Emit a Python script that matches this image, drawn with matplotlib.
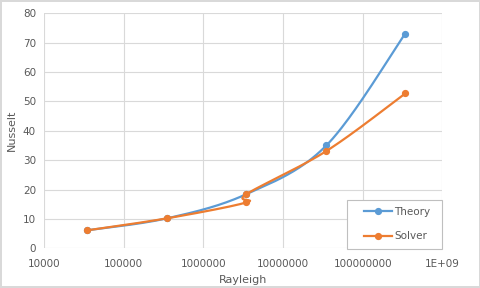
import numpy as np
import matplotlib.pyplot as plt
from matplotlib.patches import Rectangle

# values
theory_ra = [3.45e4, 3.5e5, 3.45e6, 3.5e7, 3.43e8]
theory_nu = [6.1, 10.2, 18.4, 35.0, 73.1]
solver_ra = [3.45e4, 3.5e5, 3.45e6, 3.45e6, 3.5e7, 3.43e8]
solver_nu = [6.1, 10.2, 15.6, 18.4, 33.1, 52.7]

x_ticks = [1e4, 1e5, 1e6, 1e7, 1e8, 1e9]
x_labels = ['10000', '100000', '1000000', '10000000', '100000000', '1E+09']

blue = '#5B9BD5'
orange = '#ED7D31'
grey_txt = '#595959'
grid_col = '#D9D9D9'


def smooth(xs, ys, n=40):
    # excel style smoothing: catmull-rom bezier in (log x, y)
    p = np.column_stack([np.log10(xs), ys])
    p = np.vstack([p[0], p, p[-1]])
    out = []
    for i in range(1, len(p) - 2):
        b0 = p[i]
        b3 = p[i + 1]
        b1 = b0 + (p[i + 1] - p[i - 1]) / 6.0
        b2 = b3 - (p[i + 2] - p[i]) / 6.0
        t = np.linspace(0, 1, n)[:, None]
        seg = ((1 - t)**3 * b0 + 3 * (1 - t)**2 * t * b1
               + 3 * (1 - t) * t**2 * b2 + t**3 * b3)
        out.append(seg)
    out = np.vstack(out)
    return 10**out[:, 0], out[:, 1]


fig = plt.figure(figsize=(4.81, 2.88), dpi=100)
fig.patch.set_edgecolor('#D9D9D9')
fig.patch.set_linewidth(1.5)
ax = fig.add_axes([0.092, 0.138, 0.8275, 0.816])

tx, ty = smooth(theory_ra, theory_nu)
sx, sy = smooth(solver_ra, solver_nu)

ax.plot(tx, ty, color=blue, lw=1.6, zorder=3)
ax.plot(theory_ra, theory_nu, 'o', color=blue, ms=4.2, zorder=4)
ax.plot(sx, sy, color=orange, lw=1.6, zorder=5)
ax.plot(solver_ra, solver_nu, 'o', color=orange, ms=4.2, zorder=6)

# legend handles
ax.plot([], [], '-o', color=blue, lw=1.6, ms=4.2, label='Theory')
ax.plot([], [], '-o', color=orange, lw=1.6, ms=4.2, label='Solver')

ax.set_xscale('log')
ax.set_xlim(1e4, 1e9)
ax.set_ylim(0, 80)
ax.set_xticks(x_ticks)
ax.set_xticklabels(x_labels)
ax.minorticks_off()
ax.set_yticks(range(0, 81, 10))
ax.tick_params(length=0, labelsize=7.5, labelcolor=grey_txt)
ax.tick_params(axis='x', pad=8)
ax.tick_params(axis='y', pad=6)
ax.grid(True, color=grid_col, lw=0.8)
ax.set_axisbelow(True)
for s in ax.spines.values():
    s.set_visible(False)

ax.set_xlabel('Rayleigh', fontsize=8, color=grey_txt, labelpad=4)
ax.set_ylabel('Nusselt', fontsize=8, color=grey_txt, labelpad=4)

# legend box like excel: frame drawn separately
box = Rectangle((0.76, -0.004), 0.24, 0.21, transform=ax.transAxes,
                facecolor='white', edgecolor='#BFBFBF', lw=0.8, zorder=7,
                clip_on=False)
ax.add_patch(box)
h, l = ax.get_legend_handles_labels()
leg = ax.legend(h[-2:], l[-2:], loc='center left',
                bbox_to_anchor=(0.803, 0.103), borderaxespad=0,
                borderpad=0, frameon=False, fontsize=7.5, handlelength=2.7,
                labelspacing=1.4, handletextpad=0.2, numpoints=1)
leg.set_zorder(8)
for t in leg.get_texts():
    t.set_color(grey_txt)

fig.savefig('out.png', dpi=100)
